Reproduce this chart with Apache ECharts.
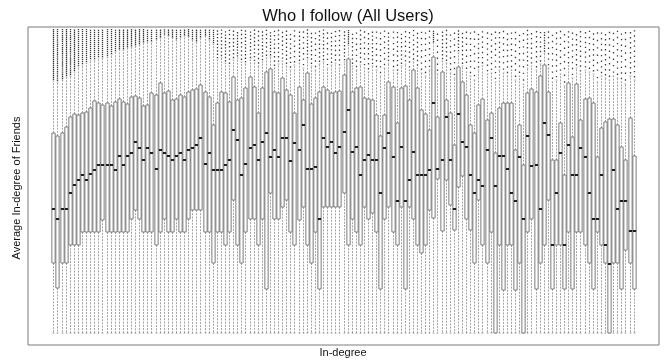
<!DOCTYPE html>
<html>
<head>
<meta charset="utf-8">
<script src="https://cdn.jsdelivr.net/npm/echarts@6/dist/echarts.min.js"></script>
<style>
  html, body { margin: 0; padding: 0; background: #fff; }
  #chart { width: 665px; height: 364px; }
</style>
</head>
<body>
<div id="chart"></div>
<script>
// Box statistics per in-degree group (vertical plot units, 0 = lowest whisker end)
const lowWhisker = 0;

const q3 = [200,197,200,206,216,219,218,220,221,225,
  232,230,228,230,227,231,234,231,229,236,
  237,235,227,228,240,238,250,240,242,233,
  234,238,236,241,243,244,248,241,236,208,
  230,241,240,231,256,233,235,245,256,246,
  220,245,261,264,241,240,255,243,238,220,
  246,233,260,229,235,241,246,243,240,241,
  242,258,274,241,245,246,235,234,233,218,
  197,218,251,246,210,245,247,233,263,245,
  223,219,203,276,216,261,233,220,188,266,
  251,238,208,200,228,234,213,220,180,225,
  230,230,230,183,208,168,240,244,241,257,
  268,241,173,173,210,158,250,196,249,213,
  234,235,230,176,205,211,214,214,208,186,
  173,215,177];

const q1 = [70,45,70,70,88,88,88,101,101,101,
  101,101,113,101,101,101,101,101,101,114,
  123,114,101,101,101,88,101,114,101,101,
  114,101,101,114,123,123,123,101,101,70,
  101,101,88,101,133,88,70,101,114,114,
  88,114,44,140,114,114,126,133,101,88,
  113,126,88,70,101,44,126,126,126,126,
  126,140,88,114,101,88,126,114,120,101,
  44,114,126,101,88,126,44,126,114,88,
  80,88,123,115,154,102,153,128,103,146,
  157,114,103,70,133,88,70,101,0,88,
  43,88,88,43,70,0,101,114,44,70,
  88,133,44,88,88,44,101,44,101,101,
  88,70,44,101,88,70,0,70,70,44,
  83,70,44];

const median = [124,114,124,124,140,148,153,158,153,159,
  163,168,168,168,168,163,177,168,177,180,
  191,185,173,185,180,164,183,180,177,173,
  177,180,173,183,185,188,195,169,180,163,
  163,163,168,173,203,193,158,169,185,188,
  173,191,200,176,183,176,195,195,172,190,
  183,208,164,164,166,114,195,186,191,180,
  186,201,223,181,186,158,173,178,173,173,
  140,185,200,176,132,186,132,153,181,158,
  158,158,163,230,164,173,216,173,124,219,
  191,186,158,140,153,147,183,195,147,177,
  177,164,140,132,176,114,197,167,168,124,
  210,198,88,140,180,88,188,158,158,185,
  176,140,114,114,158,88,69,163,124,132,
  132,102,102];

const highWhisker = [252,251,253,256,257,261,266,268,270,273,
  273,275,275,276,278,281,283,283,285,286,
  287,288,290,291,291,293,295,298,297,295,
  293,295,297,296,293,291,295,297,293,289,
  273,275,270,267,273,275,271,269,273,270,
  267,271,275,276,265,269,272,267,263,268,
  270,265,273,267,263,269,271,265,268,270,
  265,271,288,267,263,268,265,261,267,263,
  257,265,270,263,260,267,269,263,271,265,
  260,257,263,290,259,272,270,260,255,280,
  267,261,257,253,263,267,259,260,251,263,
  260,257,263,253,257,249,265,267,263,269,
  280,265,251,253,259,247,267,255,265,259,
  263,261,259,251,257,255,253,257,255,251,
  249,257,253];

// highest outlier and number of outliers above the upper whisker
const outlierTop = [304,304,304,304,304,304,304,304,304,304,
  304,304,304,304,304,304,304,304,304,304,
  304,304,304,304,304,304,304,304,304,304,
  304,304,304,304,304,304,304,304,304,304,
  303,304,302,304,303,301,304,303,302,304,
  303,302,304,301,303,304,302,303,300,304,
  302,303,304,301,302,303,304,302,301,303,
  304,302,303,300,302,304,303,301,302,303,
  302,304,301,303,302,300,303,302,304,301,
  303,302,304,303,301,302,304,300,302,303,
  301,303,302,304,300,303,302,301,303,302,
  304,301,302,303,300,302,304,301,303,302,
  301,303,300,302,304,301,303,302,300,303,
  302,304,301,303,302,300,303,302,304,301,
  303,302,304];

const outlierCount = [26,25,25,24,23,22,20,19,18,17,
  16,16,15,15,14,13,12,12,11,11,
  10,10,9,9,9,8,8,7,7,8,
  8,7,7,7,8,8,7,7,8,8,
  9,8,10,9,8,9,8,10,8,9,
  8,9,7,8,9,8,7,9,8,7,
  8,7,9,8,7,8,9,7,8,7,
  8,9,7,8,7,8,7,8,9,7,
  8,7,8,7,9,8,7,8,7,8,
  7,8,7,9,7,8,8,7,8,7,
  8,7,8,7,8,7,8,7,9,8,
  7,8,7,8,7,8,9,7,8,7,
  8,7,8,9,7,8,7,8,7,9,
  8,7,8,7,8,9,8,7,8,9,
  8,9,10];

const inDegree = q1.map((_, k) => k + 1);
const nGroups = inDegree.length;

const boxData = inDegree.map((d, k) => [
  d, lowWhisker, q1[k], median[k], q3[k], highWhisker[k], outlierTop[k], outlierCount[k]
]);

const FONT = '"Liberation Sans", Arial, Helvetica, sans-serif';

function renderBox(params, api) {
  const x = api.value(0);
  const yOf = (v) => api.coord([x, v])[1];
  const cx = Math.round(api.coord([x, 0])[0]) + 0.5;
  const half = api.size([0.8, 0])[0] / 2;
  const staple = half / 2;

  const yLo = yOf(api.value(1));
  const yQ1 = yOf(api.value(2));
  const yMed = yOf(api.value(3));
  const yQ3 = yOf(api.value(4));
  const yHi = yOf(api.value(5));
  const yOut = yOf(api.value(6));
  const nOut = api.value(7);

  const whisker = { stroke: '#a4a4a4', lineWidth: 1, lineDash: [2, 1.2], fill: null };
  const children = [];

  // dashed whiskers with staples
  children.push({ type: 'line', silent: true, shape: { x1: cx, y1: yQ1, x2: cx, y2: yLo }, style: whisker });
  children.push({ type: 'line', silent: true, shape: { x1: cx, y1: yQ3, x2: cx, y2: yHi }, style: whisker });
  children.push({ type: 'line', silent: true, shape: { x1: cx - staple, y1: yLo, x2: cx + staple, y2: yLo }, style: { stroke: '#8a8a8a', lineWidth: 1 } });
  children.push({ type: 'line', silent: true, shape: { x1: cx - staple, y1: yHi, x2: cx + staple, y2: yHi }, style: { stroke: '#a0a0a0', lineWidth: 1 } });

  // outliers above the upper whisker
  if (nOut > 0) {
    const span = Math.max(1, yHi - yOut);
    const period = span / nOut;
    children.push({
      type: 'line', silent: true,
      shape: { x1: cx, y1: yHi - period / 2, x2: cx, y2: yOut },
      style: { stroke: '#3c3c3c', lineWidth: 1.3, lineDash: [1.4, Math.max(0.6, period - 1.4)] }
    });
  }

  // box
  children.push({
    type: 'rect', silent: true,
    shape: { x: cx - half, y: yQ3, width: half * 2, height: yQ1 - yQ3 },
    style: { fill: '#ffffff', stroke: '#7c7c7c', lineWidth: 1 }
  });
  // median
  children.push({
    type: 'line', silent: true,
    shape: { x1: cx - half, y1: yMed, x2: cx + half, y2: yMed },
    style: { stroke: '#1e1e1e', lineWidth: 2 }
  });

  return { type: 'group', children };
}

const chart = echarts.init(document.getElementById('chart'), null, { renderer: 'canvas' });

chart.setOption({
  animation: false,
  backgroundColor: '#ffffff',
  title: {
    text: 'Who I follow (All Users)',
    left: 343,
    top: 3,
    textAlign: 'center',
    textStyle: { fontFamily: FONT, fontSize: 16.5, fontWeight: 'normal', color: '#111' }
  },
  grid: {
    left: 28, right: 6, top: 27, bottom: 19,
    show: true, borderColor: '#7a7a7a', borderWidth: 1, backgroundColor: 'transparent',
    containLabel: false
  },
  xAxis: {
    type: 'value',
    min: 0.5 - 0.04 * nGroups,
    max: nGroups + 0.5 + 0.04 * nGroups,
    axisLine: { show: false }, axisTick: { show: false },
    axisLabel: { show: false }, splitLine: { show: false }
  },
  yAxis: {
    type: 'value',
    min: -12, max: 306,
    axisLine: { show: false }, axisTick: { show: false },
    axisLabel: { show: false }, splitLine: { show: false }
  },
  graphic: [
    {
      type: 'text', x: 343, y: 353, silent: true,
      style: { text: 'In-degree', fontFamily: FONT, fontSize: 11, fill: '#111',
               textAlign: 'center', textVerticalAlign: 'middle' }
    },
    {
      type: 'text', x: 17, y: 188, rotation: Math.PI / 2, silent: true,
      style: { text: 'Average In-degree of Friends', fontFamily: FONT, fontSize: 11, fill: '#111',
               textAlign: 'center', textVerticalAlign: 'middle' }
    }
  ],
  series: [{
    type: 'custom',
    renderItem: renderBox,
    data: boxData,
    encode: { x: 0, y: [1, 6] },
    clip: true
  }]
});
</script>
</body>
</html>
